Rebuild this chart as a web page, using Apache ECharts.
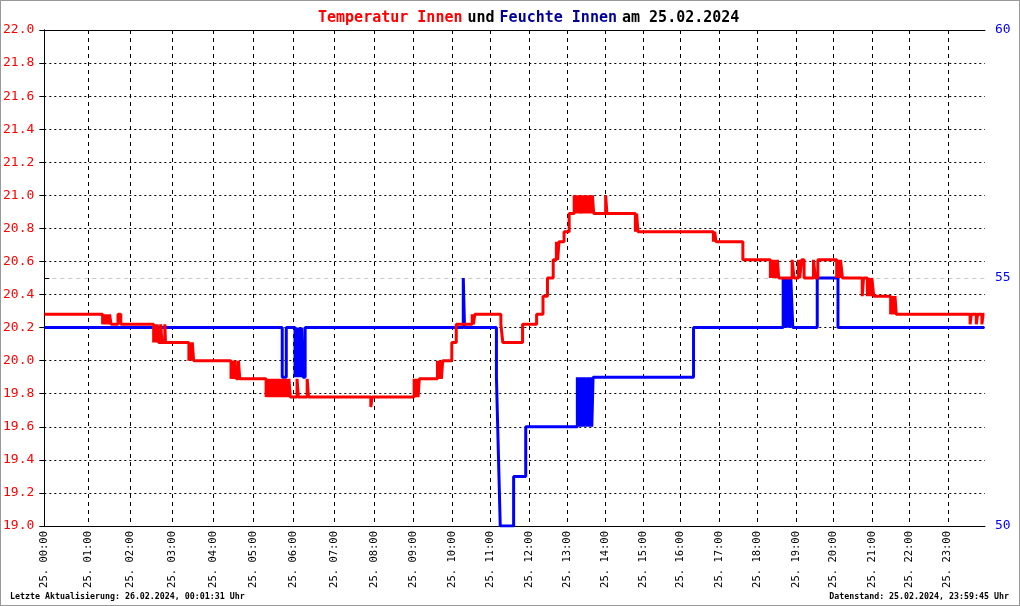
<!DOCTYPE html>
<html>
<head>
<meta charset="utf-8">
<script src="https://cdn.jsdelivr.net/npm/echarts@6/dist/echarts.min.js"></script>
<style>
  html, body { margin: 0; padding: 0; background: #fff; }
  #wrap { position: relative; width: 1020px; height: 606px; }
  #chart { width: 1020px; height: 606px; }
  #frame { position: absolute; left: 0; top: 0; width: 1020px; height: 606px; box-sizing: border-box; border: 1px solid #999; pointer-events: none; }
</style>
</head>
<body>
<div id="wrap">
  <div id="chart"></div>
  <div id="frame"></div>
</div>
<script>
// the logger plots by reading index, so hours are not equally wide
const samplesPerHour = [437, 420, 420, 410, 406, 404, 406, 400, 394, 390, 383, 383,
                        384, 378, 380, 378, 385, 385, 384, 376, 384, 376, 384, 373]

// Temperatur Innen (°C), each value held until the next reading
const tempTimes = [
  '00:00','01:21','01:23','01:25','01:27','01:29','01:31','01:33','01:43','01:47',
  '02:34','02:35','02:37','02:39','02:41','02:44','02:46','02:50','02:51','03:25',
  '03:27','03:28','03:30','03:32','04:27','04:29','04:31','04:33','04:35','04:38',
  '04:40','05:19','05:21','05:23','05:25','05:27','05:29','05:31','05:33','05:35',
  '05:37','05:39','05:41','05:43','05:45','05:47','05:49','05:51','05:53','05:55',
  '06:05','06:07','06:20','06:22','07:55','07:57','09:01','09:03','09:05','09:07',
  '09:09','09:37','09:39','09:41','09:43','09:45','09:59','10:06','10:31','10:33',
  '10:35','11:16','11:19','11:50','12:12','12:22','12:29','12:38','12:43','12:45',
  '12:47','12:55','13:03','13:11','13:13','13:15','13:17','13:19','13:21','13:24',
  '13:26','13:28','13:30','13:32','13:34','13:36','13:38','13:40','13:42','14:01',
  '14:03','14:48','14:50','14:52','16:51','16:53','16:55','17:37','18:20','18:22',
  '18:24','18:26','18:29','18:31','18:33','18:54','18:57','19:04','19:06','19:09',
  '19:13','19:28','19:31','19:35','20:05','20:07','20:09','20:11','20:14','20:45',
  '20:47','20:53','20:55','20:58','21:00','21:03','21:30','21:32','21:34','21:37',
  '21:39','23:36','23:38','23:46','23:48','23:55','23:57','23:59'
]
const tempValues = [
  20.28,20.22,20.28,20.22,20.28,20.22,20.28,20.22,20.28,20.22,
  20.11,20.22,20.11,20.22,20.11,20.22,20.11,20.22,20.11,20.00,
  20.11,20.00,20.11,20.00,19.89,20.00,19.89,20.00,19.89,20.00,
  19.89,19.78,19.89,19.78,19.89,19.78,19.89,19.78,19.89,19.78,
  19.89,19.78,19.89,19.78,19.89,19.78,19.89,19.78,19.89,19.78,
  19.89,19.78,19.89,19.78,19.72,19.78,19.89,19.78,19.89,19.78,
  19.89,20.00,19.89,20.00,19.89,20.00,20.11,20.22,20.28,20.22,
  20.28,20.22,20.11,20.22,20.28,20.39,20.50,20.61,20.72,20.61,
  20.72,20.78,20.89,21.00,20.89,21.00,20.89,21.00,20.89,21.00,
  20.89,21.00,20.89,21.00,20.89,21.00,20.89,21.00,20.89,21.00,
  20.89,20.78,20.89,20.78,20.72,20.78,20.72,20.61,20.50,20.61,
  20.50,20.61,20.50,20.61,20.50,20.61,20.50,20.61,20.50,20.61,
  20.50,20.61,20.50,20.61,20.50,20.61,20.50,20.61,20.50,20.39,
  20.50,20.39,20.50,20.39,20.50,20.39,20.28,20.39,20.28,20.39,
  20.28,20.22,20.28,20.22,20.28,20.22,20.28,20.28
]

// Feuchte Innen (%)
const humTimes = [
  '00:00','05:43','05:49','06:02','06:04','06:06','06:08','06:10','06:12','06:14',
  '06:17','10:17','10:19','11:09','11:11','11:13','11:15','11:36','11:55','13:16',
  '13:18','13:20','13:22','13:24','13:26','13:28','13:31','13:33','13:35','13:37',
  '13:39','13:41','16:20','18:40','18:42','18:44','18:46','18:48','18:50','18:52',
  '18:55','19:34','20:07','23:59'
]
const humValues = [
  54,53,54,53,54,53,54,53,54,53,
  54,55,54,53,52,51,50,51,52,53,
  52,53,52,53,52,53,52,53,52,53,
  52,53,54,55,54,55,54,55,54,55,
  54,55,54,54
]

const tempTicks = { min: 19, max: 22, step: 0.2 }
const humTicks = { min: 50, max: 60, step: 5 }

const MONO = "'DejaVu Sans Mono', 'Liberation Mono', monospace"

// start index of every hour on the reading axis
const hourStart = [0]
samplesPerHour.forEach((n, i) => hourStart.push(hourStart[i] + n))
const axisEnd = hourStart[24]

function toIndex(t) {
  const [h, m] = t.split(':').map(Number)
  return hourStart[h] + samplesPerHour[h] * m / 60
}

function pairs(times, values) {
  return times.map((t, i) => [toIndex(t), values[i]])
}

function hourLabel(v) {
  const h = hourStart.findIndex((s) => Math.abs(s - v) < 0.5)
  if (h < 0 || h >= 24) return ''
  return '25. ' + (h < 10 ? '0' + h : h) + ':00'
}

const chart = echarts.init(document.getElementById('chart'))

chart.setOption({
  animation: false,
  backgroundColor: '#fff',
  title: {
    left: 313,
    top: 4,
    text: '{r|Temperatur Innen} {k|und} {b|Feuchte Innen} {k|am 25.02.2024}',
    textStyle: {
      rich: {
        r: { color: '#ff0000', fontFamily: MONO, fontSize: 15, fontWeight: 'bold' },
        k: { color: '#000', fontFamily: MONO, fontSize: 15, fontWeight: 'bold' },
        b: { color: '#000099', fontFamily: MONO, fontSize: 15, fontWeight: 'bold' }
      }
    }
  },
  grid: { left: 43, right: 35, top: 30, bottom: 80 },
  xAxis: [
    {
      type: 'value',
      min: 0,
      max: axisEnd,
      position: 'bottom',
      axisLine: { lineStyle: { color: '#000', width: 1 } },
      axisTick: { show: false, customValues: hourStart.slice(0, 24) },
      axisLabel: {
        customValues: hourStart.slice(0, 24),
        rotate: 90,
        margin: 5,
        fontFamily: MONO,
        fontSize: 10.5,
        color: '#000',
        formatter: hourLabel
      },
      splitLine: { show: true, lineStyle: { color: '#000', type: [4, 4], width: 1 } }
    },
    {
      type: 'value',
      min: 0,
      max: axisEnd,
      position: 'top',
      axisLine: { show: true, onZero: false, lineStyle: { color: '#000', width: 1 } },
      axisTick: { show: false },
      axisLabel: { show: false },
      splitLine: { show: false }
    }
  ],
  yAxis: [
    {
      type: 'value',
      min: tempTicks.min,
      max: tempTicks.max,
      interval: tempTicks.step,
      position: 'left',
      axisLine: { show: true, lineStyle: { color: '#000', width: 1 } },
      axisTick: { show: true, length: 5, lineStyle: { color: '#000' } },
      axisLabel: {
        margin: 10,
        fontFamily: MONO,
        fontSize: 13,
        color: '#ff0000',
        formatter: (v) => v.toFixed(1)
      },
      splitLine: { show: true, lineStyle: { color: '#000', type: [2, 3], width: 1 } }
    },
    {
      type: 'value',
      min: humTicks.min,
      max: humTicks.max,
      interval: humTicks.step,
      position: 'right',
      axisLine: { show: true, lineStyle: { color: '#000', width: 1 } },
      axisTick: { show: true, length: 5, lineStyle: { color: '#000' } },
      axisLabel: { margin: 10, fontFamily: MONO, fontSize: 13, color: '#0000ff' },
      splitLine: { show: true, lineStyle: { color: '#c8c8c8', type: [4, 4], width: 1 } }
    }
  ],
  series: [
    {
      name: 'Feuchte Innen',
      type: 'line',
      step: 'end',
      yAxisIndex: 1,
      data: pairs(humTimes, humValues),
      showSymbol: false,
      lineStyle: { color: '#0000ff', width: 3 },
      z: 3
    },
    {
      name: 'Temperatur Innen',
      type: 'line',
      step: 'end',
      yAxisIndex: 0,
      data: pairs(tempTimes, tempValues),
      showSymbol: false,
      lineStyle: { color: '#ff0000', width: 3 },
      z: 4
    }
  ],
  graphic: [
    {
      type: 'text',
      left: 10,
      top: 593,
      style: { text: 'Letzte Aktualisierung: 26.02.2024, 00:01:31 Uhr', font: 'bold 8.3px ' + MONO, fill: '#000' }
    },
    {
      type: 'text',
      right: 11,
      top: 593,
      style: { text: 'Datenstand: 25.02.2024, 23:59:45 Uhr', font: 'bold 8.3px ' + MONO, fill: '#000' }
    }
  ]
})
</script>
</body>
</html>
